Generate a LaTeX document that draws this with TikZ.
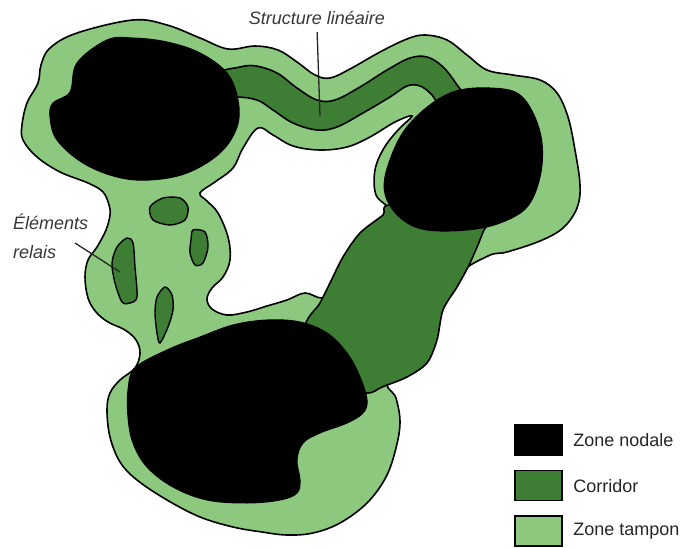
\documentclass[tikz,border=0pt]{standalone}
\usepackage{fontspec}
\setsansfont{Liberation Sans}
\usepackage{tikz}
\usetikzlibrary{positioning}
\usepackage{xcolor}
\definecolor{tampon}{RGB}{140,200,126}
\definecolor{corridorgreen}{RGB}{62,125,52}
\definecolor{labelgray}{RGB}{55,55,55}

\begin{document}
\begin{tikzpicture}[
  x=1pt, y=-1pt,
  buffer/.style={fill=tampon, draw=black, line width=1.6pt, even odd rule},
  corridor/.style={fill=corridorgreen, draw=black, line width=1.6pt},
  relay/.style={fill=corridorgreen, draw=black, line width=1.4pt},
  nodal/.style={fill=black, draw=black, line width=1pt},
  notetext/.style={font=\sffamily\itshape\fontsize{18}{29}\selectfont, text=labelgray, align=left},
  pointer/.style={draw=black!85, line width=1.3pt},
  legendbox/.style={draw=black, line width=1.6pt, minimum width=47pt, minimum height=30pt},
  legendtext/.style={font=\sffamily\fontsize{18}{22}\selectfont, text=black!85}
]
\useasboundingbox (0,0) rectangle (683,548);

\filldraw[buffer] plot[smooth cycle, tension=0.6] coordinates {
  (77,33) (133,20) (167,25) (200,38) (228,49) (255,46) (278,50) (297,62) (315,75)
  (330,78) (350,69) (380,52) (407,39) (425,35) (447,40) (467,55) (487,70) (513,75)
  (540,80) (557,93) (568,117) (575,150) (580,185) (577,208) (563,228) (540,241)
  (507,252) (488,256) (455,278) (425,330) (388,378) (396,398) (400,422) (396,448)
  (386,477) (367,503) (340,523) (313,533) (287,535) (262,532) (233,527) (200,517)
  (167,500) (137,480) (120,462) (110,437) (107,410) (110,393) (120,380) (135,368)
  (140,353) (136,340) (125,330) (108,322) (96,312) (88,298) (85,277) (88,260)
  (97,247) (106,230) (110,215) (109,205) (103,192) (88,183) (60,172) (37,157)
  (23,140) (22,125) (27,103) (38,83) (41,65) (50,48)}
  plot[smooth cycle, tension=0.6] coordinates {
  (200,193) (215,182) (233,168) (243,148) (258,128) (273,135) (293,146) (320,150)
  (347,147) (370,137) (395,122) (412,116) (398,130) (384,148) (375,170) (376,195)
  (390,212) (372,235) (355,260) (340,290) (322,298) (305,293) (287,300) (267,306)
  (247,312) (227,315) (212,309) (207,299) (212,288) (223,277) (230,260) (228,237)
  (218,213) (207,201)};

\filldraw[corridor] plot[smooth cycle, tension=0.6] coordinates {
  (215,75) (240,67) (256,66) (277,73) (297,88) (317,100) (335,100) (360,87)
  (387,70) (410,58) (427,57) (442,66) (455,82) (468,105) (445,112) (432,95)
  (420,86) (407,86) (390,97) (363,113) (337,127) (317,130) (293,123) (273,110)
  (257,100) (235,97) (215,100)};

\filldraw[corridor] plot[smooth cycle, tension=0.5] coordinates {
  (392,205) (383,215) (360,233) (343,257) (330,283) (320,303) (305,330) (330,385)
  (367,393) (382,387) (407,377) (427,363) (437,340) (443,310) (457,287) (470,263)
  (483,232) (488,212)};

\filldraw[relay] plot[smooth cycle] coordinates {
  (150,207) (163,198) (180,198) (188,207) (185,220) (170,225) (153,220)};
\filldraw[relay] plot[smooth cycle] coordinates {
  (193,230) (205,232) (208,247) (203,263) (195,265) (190,253) (191,240)};
\filldraw[relay] plot[smooth cycle] coordinates {
  (127,238) (133,243) (135,267) (137,297) (130,303) (122,302) (115,283) (112,263) (117,247)};
\filldraw[relay] plot[smooth cycle] coordinates {
  (165,287) (172,295) (173,310) (168,327) (160,343) (157,333) (155,313) (157,297)};

\filldraw[nodal] plot[smooth cycle, tension=0.6] coordinates {
  (107,40) (133,38) (167,42) (200,53) (227,73) (238,100) (237,127) (220,153)
  (187,173) (150,180) (117,177) (83,163) (57,140) (50,117) (53,103) (70,92) (77,63)};
\filldraw[nodal] plot[smooth cycle, tension=0.6] coordinates {
  (460,90) (490,88) (517,93) (533,113) (542,143) (540,177) (527,207) (500,223)
  (467,230) (427,230) (403,220) (387,200) (385,177) (397,143) (413,120) (437,100)};
\filldraw[nodal] plot[smooth cycle, tension=0.6] coordinates {
  (167,350) (200,337) (233,325) (267,320) (300,322) (327,333) (347,353) (360,377)
  (367,400) (363,413) (347,423) (320,433) (303,443) (297,460) (300,480) (297,493)
  (280,500) (247,503) (207,500) (173,487) (147,467) (133,443) (128,417) (128,390)
  (135,368)};

\node[notetext] (lblStructure) at (317,18) {Structure linéaire};
\coordinate (structTip) at (320,116);
\draw[pointer, shorten <=4pt] (lblStructure.south) -- (structTip);

\node[notetext, anchor=north west, inner sep=0pt] (lblRelais) at (13,214) {Éléments\\relais};
\coordinate (relaisStart) at (75,243);
\coordinate (relaisTip) at (120,272);
\draw[pointer] (relaisStart) -- (relaisTip);

\node[legendbox, fill=black] (keyNodal) at (538.5,440) {};
\node[legendtext, right=7pt of keyNodal] (txtNodal) {Zone nodale};
\node[legendbox, fill=corridorgreen, below=14pt of keyNodal] (keyCorridor) {};
\node[legendtext, right=7pt of keyCorridor] (txtCorridor) {Corridor};
\node[legendbox, fill=tampon, below=14pt of keyCorridor] (keyTampon) {};
\node[legendtext, right=7pt of keyTampon] (txtTampon) {Zone tampon};
\end{tikzpicture}
\end{document}
